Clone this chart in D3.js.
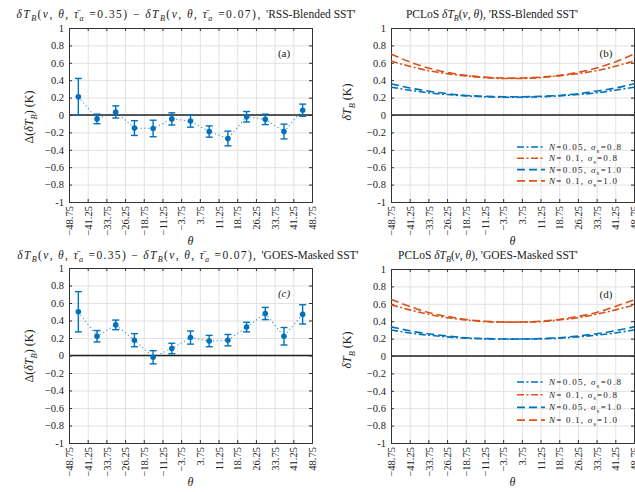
<!DOCTYPE html>
<html><head><meta charset="utf-8">
<script src="https://cdn.jsdelivr.net/npm/d3@7"></script>
<style>
body{margin:0;background:#fff;}
svg{display:block;}
text{font-family:"Liberation Serif","DejaVu Serif",serif;fill:#222;}
</style></head>
<body>
<script>
// ---- data ----
const thetaTicks = [-48.75,-41.25,-33.75,-26.25,-18.75,-11.25,-3.75,3.75,11.25,18.75,26.25,33.75,41.25,48.75];
const thetaCenters = [-45,-37.5,-30,-22.5,-15,-7.5,0,7.5,15,22.5,30,37.5,45];
const yTicks = [-1,-0.8,-0.6,-0.4,-0.2,0,0.2,0.4,0.6,0.8,1];

const diffRSS = [0.21,-0.045,0.035,-0.15,-0.155,-0.045,-0.07,-0.19,-0.27,-0.02,-0.05,-0.19,0.055];
const errRSS  = [0.21,0.055,0.07,0.085,0.095,0.07,0.07,0.065,0.085,0.06,0.06,0.085,0.07];
const diffGOES = [0.5,0.22,0.35,0.175,-0.02,0.08,0.205,0.165,0.175,0.325,0.48,0.22,0.47];
const errGOES  = [0.23,0.065,0.055,0.075,0.075,0.06,0.075,0.065,0.065,0.055,0.07,0.1,0.11];

const rssN005s08 = [0.32,0.285,0.255,0.235,0.22,0.21,0.205,0.205,0.21,0.22,0.235,0.255,0.285,0.32];
const rssN01s08  = [0.62,0.56,0.51,0.475,0.45,0.43,0.42,0.42,0.43,0.45,0.475,0.51,0.56,0.62];
const rssN005s10 = [0.36,0.31,0.275,0.245,0.225,0.215,0.21,0.21,0.215,0.225,0.245,0.275,0.31,0.36];
const rssN01s10  = [0.70,0.61,0.54,0.49,0.455,0.435,0.425,0.425,0.435,0.455,0.49,0.54,0.61,0.70];

const goesN005s08 = [0.30,0.265,0.24,0.22,0.205,0.197,0.195,0.195,0.197,0.205,0.22,0.24,0.265,0.30];
const goesN01s08  = [0.59,0.53,0.48,0.44,0.415,0.395,0.39,0.39,0.395,0.415,0.44,0.48,0.53,0.585];
const goesN005s10 = [0.335,0.29,0.255,0.23,0.21,0.2,0.195,0.195,0.2,0.21,0.23,0.255,0.29,0.335];
const goesN01s10  = [0.65,0.57,0.50,0.455,0.42,0.40,0.39,0.39,0.40,0.42,0.455,0.50,0.57,0.645];

const legendLabels = [
  [{t:"N",i:1},{t:"=0.05, "},{t:"σ",i:1},{t:"s",sub:1},{t:"=0.8"}],
  [{t:"N",i:1},{t:"= 0.1, "},{t:"σ",i:1},{t:"s",sub:1},{t:"=0.8"}],
  [{t:"N",i:1},{t:"=0.05, "},{t:"σ",i:1},{t:"s",sub:1},{t:"=1.0"}],
  [{t:"N",i:1},{t:"= 0.1, "},{t:"σ",i:1},{t:"s",sub:1},{t:"=1.0"}]
];

const BLUE = "#0072BD", RED = "#D95319";
const FONT = '"Liberation Serif","DejaVu Serif",serif';

const svg = d3.select("body").append("svg").attr("width",635).attr("height",492);

function rich(sel, parts, fs){
  let prevSub = false;
  const spans = [];
  parts.forEach(p=>{
    const ts = sel.append("tspan").text(p.t);
    if(p.i) ts.style("font-style","italic");
    if(p.sub){ ts.attr("dy", prevSub?0:fs*0.3).style("font-size",(fs*0.7)+"px"); prevSub=true; }
    else { if(prevSub) ts.attr("dy",-fs*0.3); prevSub=false; }
    spans.push({ts, p});
  });
  return spans;
}
function spansWidth(spans){
  let w=0; spans.forEach(s=>{ w += s.ts.node().getComputedTextLength(); }); return w;
}
function fitSpans(spans, target){
  let w=spansWidth(spans), n=0;
  spans.forEach(s=>{ n += s.p.t.length; });
  const ls = (target-w)/Math.max(n,1);
  spans.forEach(s=>s.ts.style("letter-spacing", ls+"px"));
}
function fitWidth(sel, target){
  const node = sel.node();
  const w = node.getComputedTextLength();
  const n = node.textContent.length;
  if(n>1) sel.style("letter-spacing", ((target-w)/(n-1))+"px");
}

function panel(cfg){
  const x = d3.scaleLinear().domain([-48.75,48.75]).range([cfg.l,cfg.r]);
  const y = d3.scaleLinear().domain([-1,1]).range([cfg.b,cfg.t]);
  const g = svg.append("g");
  const W = cfg.r-cfg.l, H = cfg.b-cfg.t;
  // grid
  g.append("g").attr("transform",`translate(0,${cfg.b})`)
    .call(d3.axisBottom(x).tickValues(thetaTicks).tickSize(-H).tickFormat(""))
    .call(s=>{s.select(".domain").remove(); s.selectAll("line").attr("stroke","#e2e2e2").attr("class","grid");});
  g.append("g").attr("transform",`translate(${cfg.l},0)`)
    .call(d3.axisLeft(y).tickValues(yTicks).tickSize(-W).tickFormat(""))
    .call(s=>{s.select(".domain").remove(); s.selectAll("line").attr("stroke","#e2e2e2").attr("class","grid");});
  // zero line
  g.append("line").attr("x1",cfg.l).attr("x2",cfg.r).attr("y1",y(0)).attr("y2",y(0))
    .attr("stroke","#222").attr("stroke-width",1.3);
  // axes
  const fmt = d=> d===0?"0":(d===1?"1":(d===-1?"-1":d3.format(".1f")(d)));
  const ax = g.append("g").attr("transform",`translate(${cfg.l},0)`)
    .call(d3.axisLeft(y).tickValues(yTicks).tickSize(-3).tickPadding(5).tickFormat(fmt));
  ax.selectAll("text").style("font-size","10.5px").style("font-family",FONT).attr("fill","#222");
  const bx = g.append("g").attr("transform",`translate(0,${cfg.b})`)
    .call(d3.axisBottom(x).tickValues(thetaTicks).tickSize(-3).tickFormat(d=>d3.format(".2f")(d)));
  bx.selectAll("text").attr("transform","rotate(-90)").attr("x",-4).attr("y",0).attr("dy","0.35em")
    .style("text-anchor","end").style("font-size","10.5px").style("font-family",FONT).attr("fill","#222");
  g.append("g").attr("transform",`translate(0,${cfg.t})`)
    .call(d3.axisTop(x).tickValues(thetaTicks).tickSize(-3).tickFormat(""));
  g.append("g").attr("transform",`translate(${cfg.r},0)`)
    .call(d3.axisRight(y).tickValues(yTicks).tickSize(-3).tickFormat(""));
  g.selectAll(".domain").attr("stroke","#333");
  g.selectAll(".tick line:not(.grid)").attr("stroke","#333");
  // title: name part natural, math part spaced to fill the total width
  const tt = g.append("text").attr("x",cfg.tx).attr("y",cfg.ty).attr("text-anchor","middle").style("font-size",cfg.tfs+"px");
  const spans = rich(tt, cfg.title, cfg.tfs);
  if(cfg.tw){
    const nameW = spansWidth(spans.filter(s=>s.p.name));
    fitSpans(spans.filter(s=>!s.p.name), cfg.tw-nameW);
  }
  // y label
  const yl = g.append("text").attr("transform",`translate(${cfg.ylx},${cfg.yly}) rotate(-90)`).attr("text-anchor","middle").style("font-size","12px");
  rich(yl, cfg.ylabel, 12);
  // x label
  g.append("text").attr("x",(cfg.l+cfg.r)/2).attr("y",cfg.b+43).attr("text-anchor","middle")
    .style("font-size","12px").style("font-style","italic").text("θ");
  // panel letter
  g.append("text").attr("x",cfg.r-28).attr("y",cfg.t+29).attr("text-anchor","middle").style("font-size","11px")
    .style("font-style",cfg.letterItalic?"italic":"normal").text(cfg.letter);
  return {g,x,y};
}

function errPanel(cfg, vals, errs){
  const {g,x,y} = panel(cfg);
  const pts = thetaCenters.map((t,i)=>({t,v:vals[i],e:errs[i]}));
  g.append("path").datum(pts).attr("fill","none").attr("stroke",BLUE).attr("stroke-width",1.1)
    .attr("stroke-dasharray","1.2,2.6").attr("opacity",0.75)
    .attr("d",d3.line().x(d=>x(d.t)).y(d=>y(d.v)));
  const eg = g.selectAll(".eb").data(pts).enter().append("g").attr("stroke",BLUE).attr("stroke-width",1.4);
  eg.append("line").attr("x1",d=>x(d.t)).attr("x2",d=>x(d.t)).attr("y1",d=>y(d.v-d.e)).attr("y2",d=>y(d.v+d.e));
  eg.append("line").attr("x1",d=>x(d.t)-3.5).attr("x2",d=>x(d.t)+3.5).attr("y1",d=>y(d.v-d.e)).attr("y2",d=>y(d.v-d.e));
  eg.append("line").attr("x1",d=>x(d.t)-3.5).attr("x2",d=>x(d.t)+3.5).attr("y1",d=>y(d.v+d.e)).attr("y2",d=>y(d.v+d.e));
  g.selectAll(".pt").data(pts).enter().append("circle").attr("cx",d=>x(d.t)).attr("cy",d=>y(d.v)).attr("r",2.8).attr("fill",BLUE);
}

function linePanel(cfg, series){
  const {g,x,y} = panel(cfg);
  const line = d3.line().x((d,i)=>x(thetaTicks[i])).y(d=>y(d)).curve(d3.curveNatural);
  const styles = [
    {c:BLUE, dash:"7,2.5,2,2.5"},
    {c:RED, dash:"7,2.5,2,2.5"},
    {c:BLUE, dash:"8,4"},
    {c:RED, dash:"8,4"}
  ];
  series.forEach((s,k)=>{
    g.append("path").datum(s).attr("fill","none").attr("stroke",styles[k].c).attr("stroke-width",1.6)
      .attr("stroke-dasharray",styles[k].dash).attr("d",line);
  });
  // legend
  const legW = [72,68,72,68];
  styles.forEach((st,k)=>{
    const yy = cfg.legY + k*cfg.legStep;
    g.append("line").attr("x1",517).attr("x2",545).attr("y1",yy).attr("y2",yy)
      .attr("stroke",st.c).attr("stroke-width",1.6).attr("stroke-dasharray",st.dash);
    const t = g.append("text").attr("x",549).attr("y",yy+3).style("font-size","9px");
    rich(t, legendLabels[k], 9);
    fitWidth(t, legW[k]);
  });
}

const diffTitle = (name)=>[
  {t:"δ",i:1},{t:"T",i:1},{t:"B",sub:1,i:1},{t:"("},{t:"ν",i:1},{t:", "},{t:"θ",i:1},{t:", "},{t:"τ̄",i:1},{t:"a",sub:1,i:1},{t:" =0.35) − "},
  {t:"δ",i:1},{t:"T",i:1},{t:"B",sub:1,i:1},{t:"("},{t:"ν",i:1},{t:", "},{t:"θ",i:1},{t:", "},{t:"τ̄",i:1},{t:"a",sub:1,i:1},{t:" =0.07), "},
  {t:"'"+name+"'", name:1}
];
const pclosTitle = (name)=>[
  {t:"PCLoS "},{t:"δ",i:1},{t:"T",i:1},{t:"B",sub:1,i:1},{t:"("},{t:"ν",i:1},{t:", "},{t:"θ",i:1},{t:"), "},
  {t:"'"+name+"'", name:1}
];
const yDiff = [{t:"Δ("},{t:"δ",i:1},{t:"T",i:1},{t:"B",sub:1,i:1},{t:") (K)"}];
const yPcl = [{t:"δ",i:1},{t:"T",i:1},{t:"B",sub:1,i:1},{t:" (K)"}];

errPanel({l:69,r:312,t:28,b:202,tx:186,ty:18,tfs:11.5,tw:342,title:diffTitle("RSS-Blended SST"),ylx:33,yly:117,ylabel:yDiff,letter:"(a)"}, diffRSS, errRSS);
linePanel({l:391,r:634,t:28,b:202,tx:492,ty:18,tfs:11.5,title:pclosTitle("RSS-Blended SST"),ylx:351,yly:102,ylabel:yPcl,letter:"(b)",legY:147,legStep:11.3},
  [rssN005s08,rssN01s08,rssN005s10,rssN01s10]);
errPanel({l:69,r:312,t:268,b:443,tx:188,ty:259,tfs:11.5,tw:344,title:diffTitle("GOES-Masked SST"),ylx:33,yly:356,ylabel:yDiff,letter:"(c)",letterItalic:1}, diffGOES, errGOES);
linePanel({l:391,r:634,t:269,b:443,tx:488,ty:259,tfs:11.5,title:pclosTitle("GOES-Masked SST"),ylx:351,yly:350,ylabel:yPcl,letter:"(d)",legY:382,legStep:12.7},
  [goesN005s08,goesN01s08,goesN005s10,goesN01s10]);
</script>
</body></html>
